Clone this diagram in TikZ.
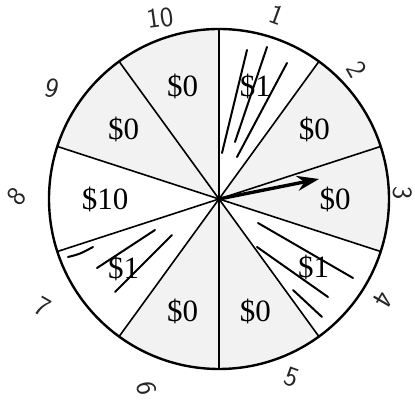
\documentclass[tikz,border=0pt]{standalone}
\usepackage{fontspec}
\setmainfont{Liberation Serif}
\usetikzlibrary{arrows.meta,calc}
\begin{document}
\begin{tikzpicture}[x=1pt,y=1pt,
  rim/.style={line width=2.4pt},
  spoke/.style={line width=1.6pt},
  stipple/.style={fill=black!5},
  pencil/.style={line width=2pt,line cap=round},
  prize/.style={font=\fontsize{31}{33}\selectfont,inner sep=0pt},
  hand/.style={font=\sffamily\fontsize{28}{30}\selectfont,inner sep=0pt,text=black!85}]
\useasboundingbox (0,0) rectangle (415,401);
\fill[white] (0,0) rectangle (415,401);
\coordinate (c) at (219,202);
\def\R{170}
% lightly shaded (stippled) sectors
\foreach \a in {36,0,-72,-108,144,108} {
  \pgfmathsetmacro{\sa}{\a-18}
  \pgfmathsetmacro{\ea}{\a+18}
  \fill[stipple] (c) -- ++(\sa:\R) arc[start angle=\sa, end angle=\ea, radius=\R] -- cycle;
}
% spokes
\foreach \a in {90,54,18,-18,-54,-90,-126,-162,162,126} {
  \draw[spoke] (c) -- ++(\a:\R);
}
% rim
\draw[rim] (c) circle[radius=\R];
% pencil strokes in $1 sectors
\draw[pencil] (247,351) -- (222,248);
\draw[pencil] (267,354) -- (235,259);
\draw[pencil] (287,338) -- (237,244);
\draw[pencil] (258,178) -- (353,123);
\draw[pencil] (257,154) -- (328,104);
\draw[pencil] (293,111) -- (322,84);
\draw[pencil] (68,144) .. controls (80,147) .. (93,154);
\draw[pencil] (97,133) -- (155,171);
\draw[pencil] (115,109) -- (172,166);
% prize labels
\node[prize] (p1) at ($(c)+(72:118)$) {\$1};
\node[prize] (p2) at ($(c)+(36:118)$) {\$0};
\node[prize] (p3) at ($(c)+(0:116)$) {\$0};
\node[prize] (p4) at ($(c)+(-36:117)$) {\$1};
\node[prize] (p5) at ($(c)+(-72:118)$) {\$0};
\node[prize] (p6) at ($(c)+(-108:118)$) {\$0};
\node[prize] (p7) at ($(c)+(-144:118)$) {\$1};
\node[prize] (p8) at ($(c)+(180:114)$) {\$10};
\node[prize] (p9) at ($(c)+(144:118)$) {\$0};
\node[prize] (p10) at ($(c)+(108:118)$) {\$0};
% pointer
\coordinate (tip) at (319,222);
\draw[line width=3.4pt,-{Stealth[length=22pt,width=15pt]}] (c) -- (tip);
% handwritten sector numbers
\node[hand,rotate=8] (n10) at (160,383) {10};
\node[hand,rotate=-20] (n1) at (277,386) {1};
\node[hand,rotate=-60] (n2) at (357,331) {2};
\node[hand,rotate=-90] (n3) at (403,208) {3};
\node[hand,rotate=-120] (n4) at (383,101) {4};
\node[hand,rotate=-20] (n5) at (292,24) {5};
\node[hand,rotate=-80] (n6) at (147,13) {6};
\node[hand,rotate=-30] (n7) at (43,94) {7};
\node[hand,rotate=50] (n8) at (17,204) {8};
\node[hand,rotate=-15] (n9) at (52,313) {9};
\end{tikzpicture}
\end{document}
